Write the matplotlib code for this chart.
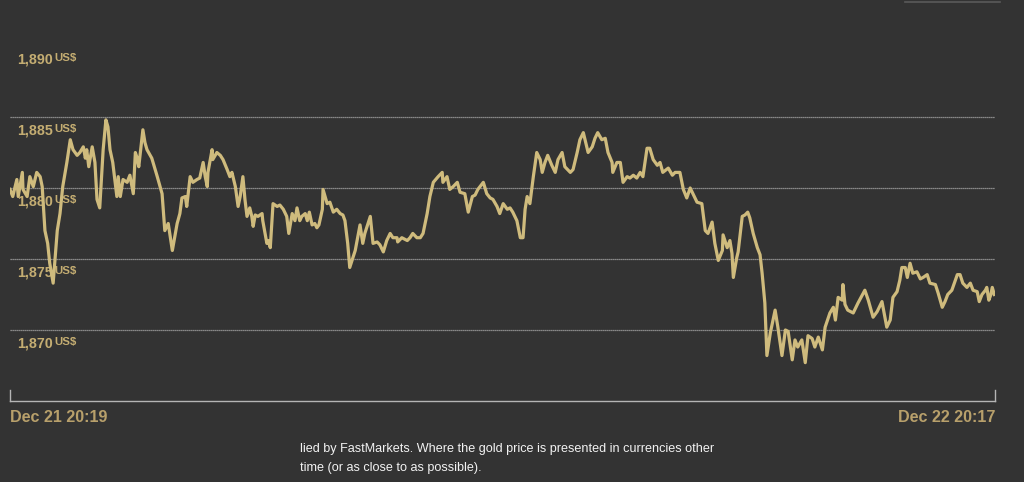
import matplotlib
matplotlib.use("Agg")
import matplotlib.pyplot as plt
from matplotlib.lines import Line2D

# gold price, minutes after Dec 21 20:19 (US$ / oz)
minutes = [
    0, 4, 10, 12, 18, 19, 25, 29, 34, 39, 44, 47, 51, 55, 58, 63, 69, 73, 77, 83,
    88, 92, 98, 102, 107, 110, 112, 115, 120, 124, 127, 131, 136, 140, 143, 146, 150, 156, 158, 161,
    165, 171, 175, 180, 183, 185, 188, 194, 197, 200, 207, 215, 222, 226, 231, 237, 244, 248, 251, 256,
    258, 263, 267, 273, 277, 282, 285, 288, 289, 295, 296, 302, 307, 311, 317, 321, 324, 329, 333, 336,
    340, 343, 346, 350, 353, 355, 358, 362, 368, 369, 375, 377, 380, 384, 390, 394, 399, 404, 407, 412,
    416, 419, 423, 426, 431, 434, 437, 441, 445, 448, 451, 456, 457, 460, 463, 467, 472, 477, 482, 486,
    489, 493, 496, 504, 511, 515, 518, 526, 530, 536, 540, 545, 550, 555, 559, 565, 566, 572, 580, 584,
    588, 594, 599, 603, 609, 613, 618, 625, 631, 632, 638, 642, 647, 653, 657, 664, 669, 675, 679, 683,
    691, 696, 701, 705, 711, 715, 720, 726, 730, 734, 740, 745, 749, 752, 755, 759, 764, 769, 774, 777,
    781, 785, 791, 796, 800, 806, 810, 818, 822, 828, 832, 837, 844, 850, 854, 858, 864, 869, 873, 879,
    880, 886, 891, 895, 901, 905, 910, 915, 920, 924, 930, 934, 939, 945, 949, 953, 961, 967, 971, 978,
    983, 988, 993, 997, 1003, 1010, 1015, 1019, 1025, 1029, 1034, 1040, 1041, 1047, 1051, 1054, 1056, 1061, 1063, 1069,
    1073, 1077, 1080, 1085, 1091, 1095, 1098, 1102, 1105, 1110, 1117, 1121, 1127, 1132, 1136, 1142, 1146, 1150, 1156, 1161,
    1165, 1171, 1175, 1180, 1186, 1190, 1197, 1202, 1205, 1209, 1215, 1216, 1219, 1223, 1231, 1238, 1248, 1253, 1260, 1266,
    1273, 1280, 1285, 1289, 1295, 1299, 1302, 1307, 1310, 1314, 1318, 1324, 1329, 1333, 1339, 1343, 1351, 1355, 1361, 1365,
    1369, 1375, 1383, 1387, 1391, 1397, 1402, 1406, 1412, 1415, 1419, 1424, 1426, 1429, 1432, 1434, 1437,
]
price = [
    1879.9, 1879.4, 1880.6, 1879.4, 1881.1, 1879.9, 1879.4, 1880.8, 1880.1, 1881.1,
    1880.8, 1880.1, 1877.0, 1876.1, 1874.7, 1873.3, 1877.0, 1878.2, 1880.1, 1881.8,
    1883.4, 1882.7, 1882.3, 1882.5, 1882.9, 1882.1, 1882.7, 1881.5, 1882.9, 1881.8,
    1879.2, 1878.6, 1882.7, 1884.8, 1884.3, 1882.7, 1881.8, 1879.4, 1880.8, 1879.4,
    1880.6, 1880.4, 1880.9, 1879.6, 1882.5, 1882.2, 1881.5, 1884.1, 1883.2, 1882.7,
    1882.1, 1880.8, 1879.6, 1877.0, 1877.5, 1875.6, 1877.5, 1878.2, 1879.3, 1879.4,
    1878.7, 1880.8, 1880.4, 1880.6, 1880.7, 1881.8, 1880.8, 1880.1, 1881.1, 1882.7,
    1882.0, 1882.5, 1882.3, 1882.0, 1881.3, 1880.8, 1881.1, 1880.1, 1878.7, 1879.4,
    1880.8, 1879.2, 1878.0, 1878.6, 1878.0, 1877.3, 1878.1, 1878.0, 1878.2, 1877.7,
    1876.1, 1876.3, 1875.8, 1878.9, 1878.7, 1878.8, 1878.5, 1878.0, 1876.8, 1878.2,
    1877.7, 1878.6, 1877.7, 1878.0, 1878.2, 1877.7, 1878.3, 1877.4, 1877.5, 1877.2,
    1877.4, 1878.5, 1879.9, 1879.4, 1878.9, 1879.0, 1878.3, 1878.5, 1878.2, 1878.1,
    1877.7, 1876.1, 1874.4, 1875.6, 1877.4, 1876.1, 1876.8, 1878.0, 1876.1, 1876.2,
    1876.0, 1875.5, 1876.3, 1876.8, 1876.5, 1876.5, 1876.2, 1876.5, 1876.3, 1876.5,
    1876.8, 1876.5, 1876.5, 1876.8, 1878.2, 1879.4, 1880.4, 1880.8, 1881.1, 1880.4,
    1880.8, 1879.9, 1880.1, 1880.4, 1879.7, 1879.6, 1878.3, 1879.4, 1879.5, 1879.9,
    1880.4, 1879.6, 1879.3, 1879.2, 1878.7, 1878.2, 1878.9, 1878.5, 1878.6, 1878.3,
    1877.7, 1876.5, 1876.5, 1878.5, 1879.4, 1878.9, 1880.8, 1882.5, 1882.0, 1881.1,
    1881.8, 1882.3, 1881.6, 1881.1, 1882.0, 1882.5, 1881.5, 1881.1, 1881.3, 1882.5,
    1883.4, 1883.9, 1882.5, 1882.9, 1883.5, 1883.9, 1883.4, 1883.5, 1882.5, 1881.8,
    1881.1, 1881.8, 1881.8, 1880.4, 1880.8, 1880.7, 1880.9, 1880.7, 1881.1, 1880.8,
    1882.8, 1882.8, 1882.0, 1881.6, 1881.8, 1881.1, 1881.4, 1880.9, 1881.1, 1881.1,
    1879.9, 1879.3, 1880.0, 1879.6, 1879.0, 1878.9, 1877.0, 1876.8, 1877.6, 1876.1,
    1874.9, 1875.6, 1876.7, 1875.8, 1876.3, 1875.4, 1873.7, 1875.1, 1875.5, 1878.0,
    1878.1, 1878.3, 1877.9, 1876.8, 1875.8, 1875.3, 1874.0, 1871.9, 1868.2, 1869.8,
    1871.4, 1870.2, 1868.2, 1870.0, 1869.9, 1867.9, 1869.3, 1868.8, 1869.3, 1867.7,
    1869.6, 1869.4, 1868.8, 1869.5, 1868.6, 1870.2, 1871.2, 1871.6, 1870.7, 1872.3,
    1872.1, 1873.2, 1871.8, 1871.4, 1871.2, 1871.9, 1872.8, 1872.1, 1870.9, 1871.3,
    1872.0, 1870.2, 1870.7, 1872.3, 1872.7, 1873.5, 1874.4, 1874.4, 1873.7, 1874.7,
    1874.0, 1874.1, 1873.6, 1873.7, 1873.9, 1873.3, 1873.2, 1872.6, 1871.6, 1872.0,
    1872.5, 1872.8, 1873.9, 1873.9, 1873.3, 1873.0, 1873.3, 1872.8, 1872.7, 1872.0,
    1872.5, 1872.8, 1873.0, 1872.1, 1872.5, 1873.0, 1872.5,
]

grid_levels = [1870, 1875, 1880, 1885]
label_levels = [1870, 1875, 1880, 1885, 1890]
total_minutes = 1438
start_label = "Dec 21 20:19"
end_label = "Dec 22 20:17"
footer_lines = [
    "lied by FastMarkets. Where the gold price is presented in currencies other",
    "time (or as close to as possible).",
]

bg = "#333333"
gold = "#cfbb7d"
label_gold = "#c4ad72"
date_gold = "#b8a06b"

fig = plt.figure(figsize=(10.24, 4.82), dpi=100, facecolor=bg)
ax = fig.add_axes([10 / 1024, (482 - 401) / 482, 985 / 1024, 401 / 482])
ax.set_facecolor(bg)

ax.set_xlim(0, total_minutes)
ax.set_ylim(1865, 1893.24)

ax.set_yticks(grid_levels)
ax.set_xticks([])
ax.tick_params(left=False, labelleft=False, bottom=False, labelbottom=False)
ax.grid(axis="y", color="#b0b0b0", linewidth=0.9, linestyle=(0, (1, 0.6)), alpha=0.9)
ax.set_axisbelow(True)

for side in ["top", "right", "left"]:
    ax.spines[side].set_visible(False)
ax.spines["bottom"].set_color("#b5b5b5")
ax.spines["bottom"].set_linewidth(1.0)

# little end ticks on the time axis
ax.axvline(0, 0, 0.028, color="#b5b5b5", linewidth=1.0, clip_on=False)
ax.axvline(total_minutes, 0, 0.028, color="#b5b5b5", linewidth=1.0, clip_on=False)

# y labels sit just under each level, drawn under the price line
for lvl in label_levels:
    num = ax.annotate(f"{lvl:,}", xy=(7 / 985, lvl), xycoords=("axes fraction", "data"),
                      xytext=(0, -4.5), textcoords="offset points", ha="left", va="top",
                      fontsize=10.3, fontweight="bold", color=label_gold,
                      family="Liberation Sans", zorder=1)
    ax.annotate("US$", xy=(1, 1), xycoords=num, xytext=(1.2, -0.8), textcoords="offset points",
                ha="left", va="top", fontsize=8.2, fontweight="bold", color=label_gold,
                family="Liberation Sans", zorder=1)

ax.plot(minutes, price, color=gold, linewidth=2.3, solid_joinstyle="round", zorder=3)

fig.text(10 / 1024, 1 - 417 / 482, start_label, ha="left", va="center", fontsize=11.6,
         fontweight="bold", color=date_gold, family="Liberation Sans")
fig.text(995 / 1024, 1 - 417 / 482, end_label, ha="right", va="center", fontsize=11.6,
         fontweight="bold", color=date_gold, family="Liberation Sans")

fig.text(300 / 1024, 1 - 449 / 482, footer_lines[0], ha="left", va="center", fontsize=9.1,
         color="#f2f2f2", family="Liberation Sans")
fig.text(300 / 1024, 1 - 468 / 482, footer_lines[1], ha="left", va="center", fontsize=9.1,
         color="#f2f2f2", family="Liberation Sans")

# faint border fragment in the top right corner
fig.add_artist(Line2D([905 / 1024, 1000 / 1024], [1 - 1.5 / 482, 1 - 1.5 / 482],
                      color="#5a5a5a", linewidth=1.2))

fig.savefig("out.png", dpi=100, facecolor=bg)
